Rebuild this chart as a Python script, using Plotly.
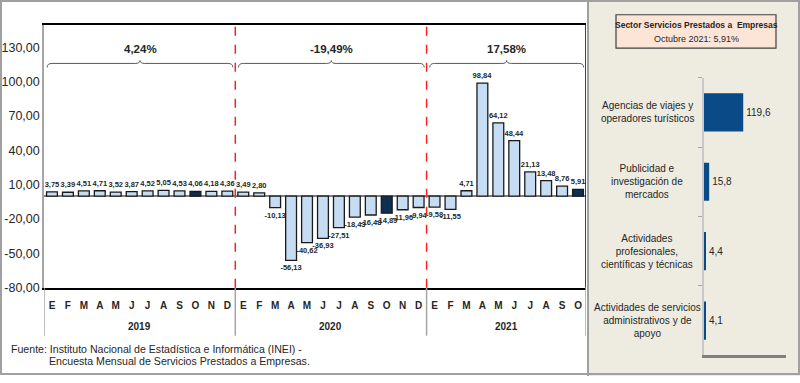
import plotly.graph_objects as go

# ---------------- data ----------------
months_2019 = ["E", "F", "M", "A", "M", "J", "J", "A", "S", "O", "N", "D"]
months_2020 = ["E", "F", "M", "A", "M", "J", "J", "A", "S", "O", "N", "D"]
months_2021 = ["E", "F", "M", "A", "M", "J", "J", "A", "S", "O"]
years = ["2019", "2020", "2021"]

values_2019 = [3.75, 3.39, 4.51, 4.71, 3.52, 3.87, 4.52, 5.05, 4.53, 4.06, 4.18, 4.36]
values_2020 = [3.49, 2.80, -10.13, -56.13, -40.62, -36.93, -27.51, -18.43, -16.48, -14.89, -11.90, -9.94]
values_2021 = [-9.58, -11.55, 4.71, 98.84, 64.12, 48.44, 21.13, 13.48, 8.76, 5.91]
year_growth = ["4,24%", "-19,49%", "17,58%"]

ytick_vals = [-80, -50, -20, 10, 40, 70, 100, 130]

sub_categories = [
    "Agencias de viajes y<br>operadores turísticos",
    "Publicidad e<br>investigación de<br>mercados",
    "Actividades<br>profesionales,<br>científicas y técnicas",
    "Actividades de servicios<br>administrativos y de<br>apoyo",
]
sub_values = [119.6, 15.8, 4.4, 4.1]

header_title = "Sector Servicios Prestados a  Empresas"
header_sub = "Octubre 2021: 5,91%"
source_lines = ["Fuente: Instituto Nacional de Estadística e Informática (INEI) -",
                "Encuesta Mensual de Servicios Prestados a Empresas."]

# ---------------- styling ----------------
W, H = 800, 383
FONT = "Liberation Sans Narrow, Arial Narrow, Liberation Sans, Arial, sans-serif"
TXT = "#262626"
LIGHT = "#C5DCF2"
DARK = "#0E2F52"
BEIGE = "#EEECE1"


def px(x):
    return x / W


def py(y):
    return 1 - y / H


def fmt(v, d=2):
    return f"{v:.{d}f}".replace(".", ",")


groups = [months_2019, months_2020, months_2021]
group_vals = [values_2019, values_2020, values_2021]
months = [m for g in groups for m in g]
values = [v for g in group_vals for v in g]
xs = list(range(len(values)))
colors = [DARK if m == "O" else LIGHT for m in months]

fig = go.Figure()

fig.add_trace(go.Bar(
    x=xs, y=values, width=0.68,
    marker=dict(color=colors, line=dict(color="#1A1A1A", width=1.3)),
    text=[fmt(v) for v in values], textposition="outside",
    textfont=dict(family=FONT, size=7.5, color=TXT, weight="bold"),
    constraintext="none", cliponaxis=False,
    xaxis="x", yaxis="y", showlegend=False, hoverinfo="skip",
))

fig.add_trace(go.Bar(
    y=sub_categories, x=sub_values, orientation="h", width=0.55,
    marker=dict(color="#0A4A87", line=dict(width=0)),
    text=[fmt(v, 1) for v in sub_values], textposition="outside",
    textfont=dict(family=FONT, size=10, color=TXT),
    constraintext="none", cliponaxis=False,
    xaxis="x2", yaxis="y2", showlegend=False, hoverinfo="skip",
))

shapes = []
annotations = []

shapes.append(dict(type="rect", xref="paper", yref="paper", x0=px(588), x1=1, y0=0, y1=1,
                   fillcolor=BEIGE, line=dict(width=0), layer="below"))
shapes.append(dict(type="rect", xref="paper", yref="paper", x0=px(1), x1=px(799), y0=py(381), y1=py(1),
                   fillcolor="rgba(0,0,0,0)", line=dict(color="#A0A0A0", width=2), layer="above"))
shapes.append(dict(type="line", xref="paper", yref="paper", x0=px(588), x1=px(588), y0=0, y1=1,
                   line=dict(color="#A0A0A0", width=2), layer="above"))

n = len(values)
shapes.append(dict(type="line", xref="x", yref="y domain", x0=n - 0.5, x1=n - 0.5, y0=0, y1=1,
                   line=dict(color="#000000", width=1.5)))

start = 0
for gi, g in enumerate(groups):
    end = start + len(g) - 1
    left_b = start - 0.5
    right_b = end + 0.5
    shapes.append(dict(type="line", xref="x", yref="paper", x0=left_b, x1=left_b,
                       y0=py(342), y1=py(293), line=dict(color="#A6A6A6", width=1.5)))
    if gi > 0:
        shapes.append(dict(type="line", xref="x", yref="y domain", x0=left_b, x1=left_b,
                           y0=0, y1=1, line=dict(color="#FF2020", width=1.5, dash="dash")))
    annotations.append(dict(xref="x", yref="paper", x=(left_b + right_b) / 2, y=py(333),
                            xanchor="center", yanchor="middle",
                            text=years[gi], showarrow=False,
                            font=dict(family=FONT, size=10, color=TXT, weight="bold")))
    x0 = left_b + 0.2
    x1 = right_b - 0.15
    xc = (x0 + x1) / 2
    yb = 116
    path = (f"M {x0},{yb-3.5} Q {x0},{yb} {x0+0.3},{yb} L {xc-0.3},{yb} "
            f"Q {xc},{yb} {xc},{yb+2.5} Q {xc},{yb} {xc+0.3},{yb} "
            f"L {x1-0.3},{yb} Q {x1},{yb} {x1},{yb-3.5}")
    shapes.append(dict(type="path", xref="x", yref="y", path=path,
                       line=dict(color="#595959", width=1)))
    annotations.append(dict(xref="x", yref="y", x=xc, y=129, text=year_growth[gi],
                            xanchor="center", yanchor="middle", showarrow=False,
                            font=dict(family=FONT, size=11.5, color=TXT, weight="bold")))
    start = end + 1
shapes.append(dict(type="line", xref="x", yref="paper", x0=n - 0.5, x1=n - 0.5,
                   y0=py(342), y1=py(293), line=dict(color="#A6A6A6", width=1.5)))

shapes.append(dict(type="rect", xref="paper", yref="paper", x0=px(616), x1=px(776),
                   y0=py(49), y1=py(15), fillcolor="#FCE4D6",
                   line=dict(color="#404040", width=1.2), layer="above"))
annotations.append(dict(xref="paper", yref="paper", x=px(696), y=py(25), text=header_title,
                        xanchor="center", yanchor="middle", showarrow=False,
                        font=dict(family=FONT, size=8.5, color=TXT, weight="bold")))
annotations.append(dict(xref="paper", yref="paper", x=px(696), y=py(40), text=header_sub,
                        xanchor="center", yanchor="middle", showarrow=False,
                        font=dict(family=FONT, size=9, color=TXT)))

for c in sub_categories:
    annotations.append(dict(xref="paper", yref="y2", x=px(647), y=c, text=c, showarrow=False,
                            xanchor="center", yanchor="middle", align="center",
                            font=dict(family=FONT, size=10, color=TXT)))

annotations.append(dict(xref="paper", yref="paper", x=px(9), y=py(355), xanchor="left",
                        yanchor="middle", text=source_lines[0], showarrow=False,
                        font=dict(family=FONT, size=10.6, color=TXT)))
annotations.append(dict(xref="paper", yref="paper", x=px(47), y=py(368), xanchor="left",
                        yanchor="middle", text=source_lines[1], showarrow=False,
                        font=dict(family=FONT, size=10.6, color=TXT)))

fig.update_layout(
    width=W, height=H, autosize=False,
    margin=dict(l=0, r=0, t=0, b=0),
    paper_bgcolor="white", plot_bgcolor="white",
    separators=",.",
    shapes=shapes, annotations=annotations,
    xaxis=dict(domain=[px(44), px(586)], anchor="y", range=[-0.5, n - 0.5],
               tickmode="array", tickvals=xs, ticktext=months,
               ticks="outside", ticklen=7, tickcolor="rgba(0,0,0,0)",
               tickfont=dict(family=FONT, size=10, color=TXT, weight="bold"),
               showline=True, mirror=True, linecolor="#000000", linewidth=2,
               showgrid=False, zeroline=False, fixedrange=True),
    yaxis=dict(domain=[py(293), py(25)], anchor="x", range=[-80, 150],
               tickmode="array", tickvals=ytick_vals, ticktext=[fmt(v) for v in ytick_vals],
               tickfont=dict(family=FONT, size=12.5, color=TXT),
               showline=True, linecolor="#A6A6A6", linewidth=1.5,
               showgrid=False, zeroline=True, zerolinecolor="#808080", zerolinewidth=1.5,
               fixedrange=True),
    xaxis2=dict(domain=[px(704), px(786)], anchor="y2", range=[0, 250],
                showticklabels=False, ticks="", showgrid=False, zeroline=False,
                showline=True, linecolor="#808080", linewidth=3, fixedrange=True),
    yaxis2=dict(domain=[py(362), py(79)], anchor="x2",
                categoryorder="array", categoryarray=sub_categories, autorange="reversed",
                showticklabels=False, ticks="outside", tickson="boundaries", ticklen=4,
                tickcolor="#A6A6A6", showgrid=False, zeroline=False,
                showline=True, linecolor="#C8C8C8", linewidth=2, fixedrange=True),
)

fig.write_html(
    "out.html",
    config={"displayModeBar": False},
    post_script="document.documentElement.style.margin='0';document.body.style.margin='0';"
                "document.body.style.overflow='hidden';",
)
